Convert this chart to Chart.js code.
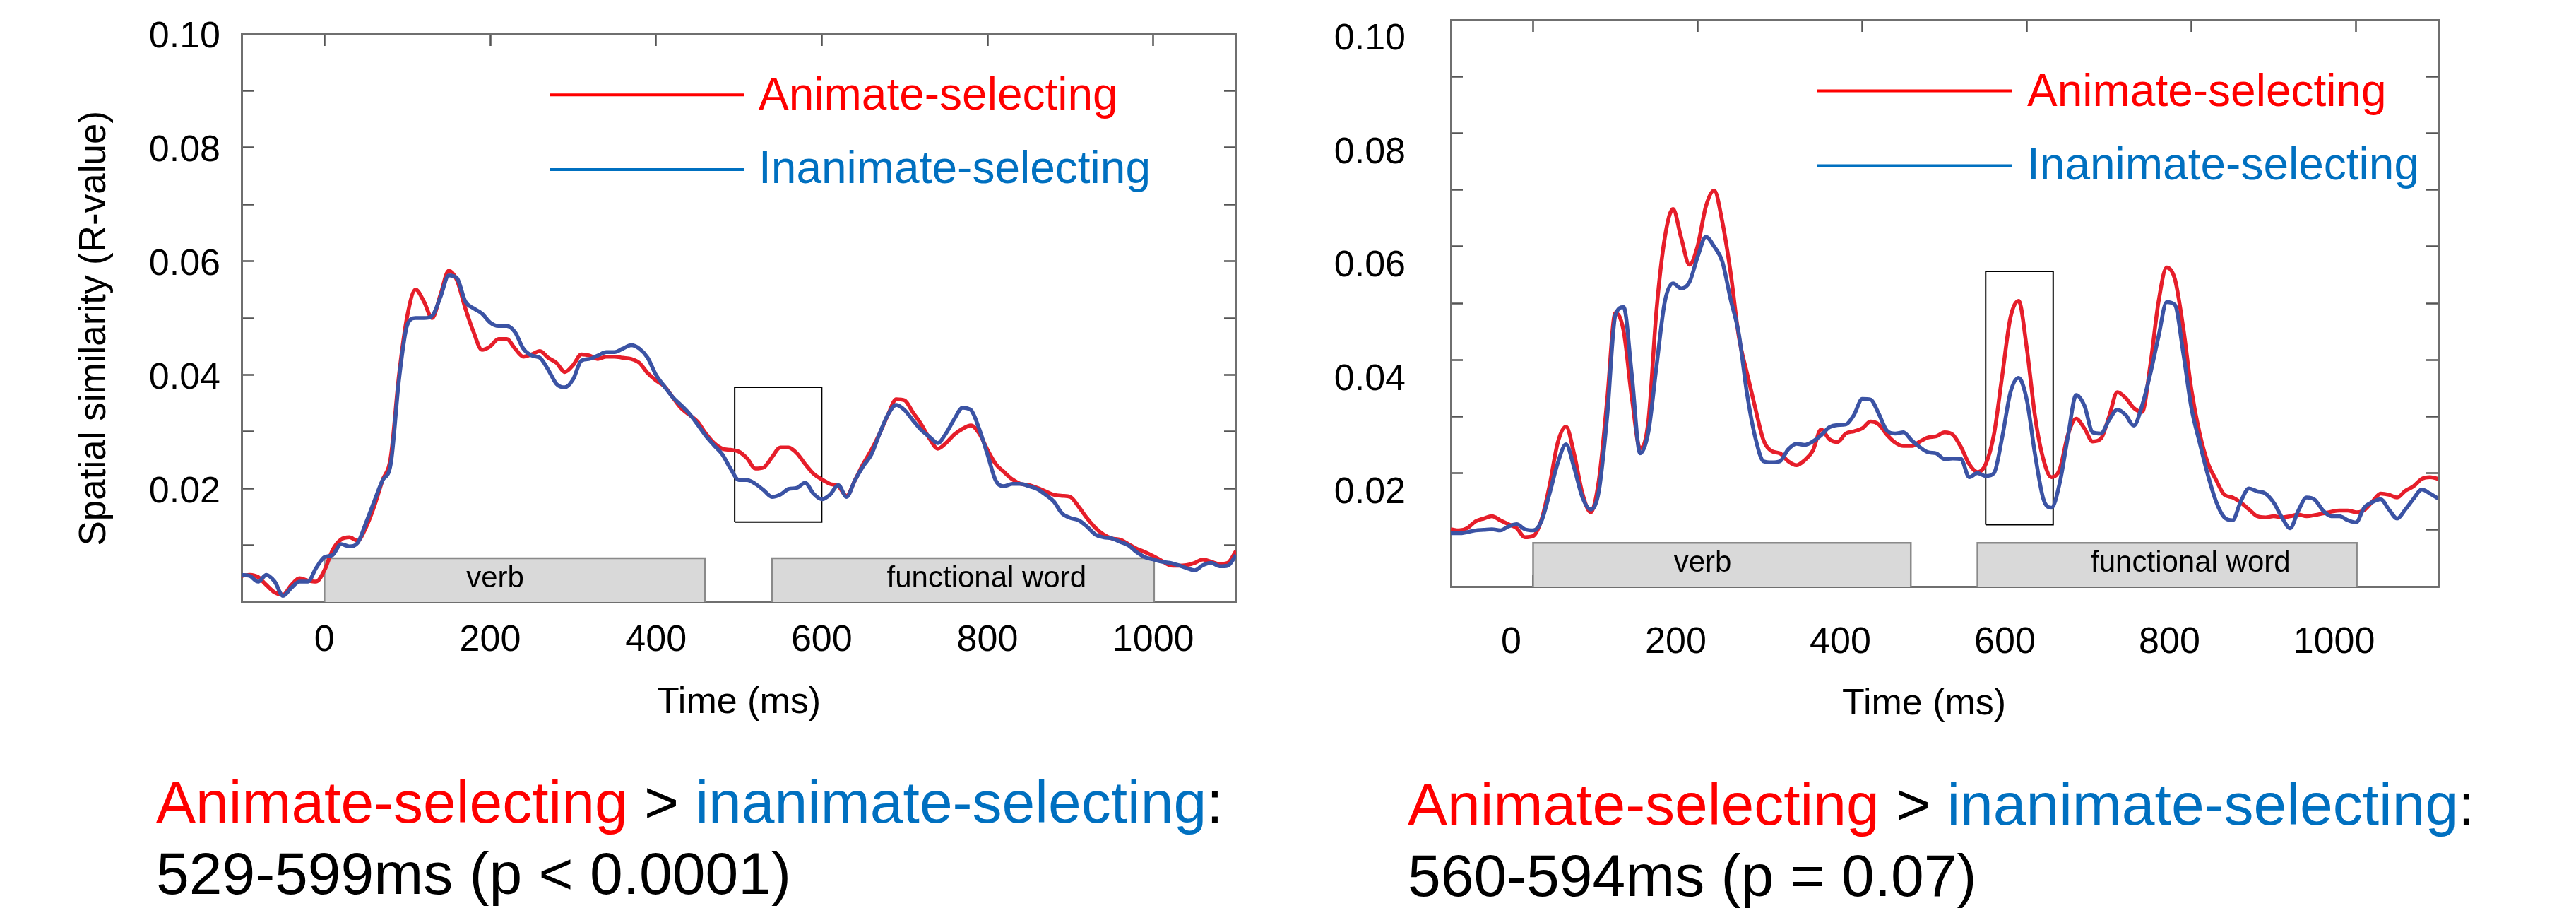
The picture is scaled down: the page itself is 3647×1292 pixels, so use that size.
<!DOCTYPE html>
<html><head><meta charset="utf-8">
<script src="https://cdn.jsdelivr.net/npm/chart.js@4.4.1/dist/chart.umd.min.js"></script>
<style>
html,body{margin:0;padding:0;background:#fff;}
#page{position:relative;width:3647px;height:1292px;overflow:hidden;background:#fff;font-family:"Liberation Sans",Arial,sans-serif;}
canvas{position:absolute;top:0;}
#c1{left:0;}
#c2{left:1830px;}
.cap{position:absolute;font-size:84px;line-height:101px;color:#000;white-space:nowrap;}
.r{color:#ff0000;}
.b{color:#0070c0;}
</style></head><body>
<div id="page">
<canvas id="c1" width="1830" height="1060"></canvas>
<canvas id="c2" width="1817" height="1060"></canvas>
<div class="cap" style="left:221px;top:1085px"><span class="r">Animate-selecting</span> &gt; <span class="b">inanimate-selecting</span>:<br>529-599ms (p &lt; 0.0001)</div>
<div class="cap" style="left:1993px;top:1088px"><span class="r">Animate-selecting</span> &gt; <span class="b">inanimate-selecting</span>:<br>560-594ms (p = 0.07)</div>
</div>
<script>
const times = [-100,-90,-80,-70,-60,-50,-40,-30,-20,-10,
0,10,20,30,40,50,60,70,80,90,100,110,120,130,140,150,160,170,180,190,
200,210,220,230,240,250,260,270,280,290,300,310,320,330,340,350,360,370,380,390,
400,410,420,430,440,450,460,470,480,490,500,510,520,530,540,550,560,570,580,590,
600,610,620,630,640,650,660,670,680,690,700,710,720,730,740,750,760,770,780,790,
800,810,820,830,840,850,860,870,880,890,900,910,920,930,940,950,960,970,980,990,
1000,1010,1020,1030,1040,1050,1060,1070,1080,1090,1100];

const leftAnimate = [.0046,.0048,.0044,.0030,.0017,.0013,.0030,.0042,.0038,.0036,
.0056,.0092,.0110,.0114,.0108,.0131,.0168,.0214,.0255,.0400,
.0504,.0550,.0529,.0500,.0541,.0583,.0566,.0517,.0475,.0444,
.0450,.0463,.0463,.0446,.0432,.0436,.0442,.0430,.0421,.0405,
.0417,.0436,.0434,.0428,.0432,.0432,.0430,.0428,.0421,.0403,
.0390,.0380,.0361,.0342,.0330,.0318,.0297,.0280,.0270,.0268,
.0265,.0253,.0235,.0237,.0255,.0272,.0272,.0262,.0243,.0226,
.0216,.0208,.0204,.0187,.0214,.0243,.0268,.0297,.0330,.0357,
.0355,.0334,.0313,.0288,.0270,.0280,.0295,.0305,.0311,.0297,
.0268,.0243,.0229,.0216,.0208,.0206,.0201,.0195,.0189,.0187,
.0185,.0168,.0148,.0131,.0119,.0112,.0110,.0102,.0094,.0088,
.0081,.0073,.0065,.0064,.0065,.0069,.0075,.0071,.0067,.0069,.0090];

const leftInanimate = [.0048,.0046,.0036,.0048,.0036,.0011,.0025,.0036,.0036,.0060,
.0079,.0083,.0102,.0098,.0104,.0139,.0177,.0214,.0243,.0392,
.0488,.0500,.0500,.0504,.0537,.0575,.0570,.0529,.0517,.0508,
.0492,.0486,.0486,.0475,.0446,.0434,.0430,.0409,.0384,.0378,
.0392,.0425,.0428,.0434,.0440,.0440,.0446,.0452,.0446,.0430,
.0400,.0380,.0361,.0347,.0332,.0313,.0293,.0276,.0260,.0235,
.0215,.0215,.0208,.0197,.0185,.0189,.0199,.0201,.0210,.0191,
.0181,.0189,.0206,.0185,.0214,.0239,.0260,.0297,.0330,.0347,
.0338,.0320,.0303,.0291,.0280,.0297,.0322,.0342,.0338,.0305,
.0260,.0214,.0204,.0208,.0208,.0204,.0199,.0189,.0177,.0156,
.0148,.0144,.0133,.0119,.0114,.0112,.0106,.0100,.0088,.0079,
.0075,.0071,.0069,.0065,.0060,.0056,.0065,.0069,.0063,.0064,.0083];

const rightAnimate = [.0101,.0099,.0103,.0115,.0120,.0124,.0117,.0110,.0103,.0087,
.0089,.0117,.0178,.0254,.0282,.0233,.0164,.0131,.0188,.0329,
.0483,.0451,.0333,.0244,.0291,.0488,.0615,.0666,.0615,.0568,
.0601,.0671,.0699,.0643,.0554,.0441,.0376,.0315,.0258,.0239,
.0235,.0221,.0214,.0223,.0240,.0277,.0260,.0255,.0270,.0274,
.0279,.0291,.0286,.0268,.0254,.0248,.0248,.0256,.0263,.0265,
.0272,.0268,.0246,.0216,.0202,.0216,.0268,.0371,.0474,.0504,
.0420,.0300,.0225,.0193,.0207,.0268,.0296,.0279,.0256,.0261,
.0300,.0343,.0333,.0315,.0308,.0390,.0502,.0563,.0542,.0457,
.0347,.0270,.0218,.0188,.0162,.0157,.0148,.0136,.0124,.0122,
.0124,.0122,.0124,.0127,.0124,.0126,.0129,.0132,.0134,.0134,
.0131,.0135,.0150,.0164,.0162,.0157,.0169,.0177,.0190,.0193,.0190];

const rightInanimate = [.0094,.0094,.0096,.0099,.0100,.0101,.0099,.0106,.0110,.0101,
.0099,.0115,.0164,.0218,.0251,.0209,.0157,.0136,.0169,.0300,
.0479,.0493,.0373,.0235,.0272,.0389,.0502,.0535,.0526,.0537,
.0582,.0617,.0600,.0573,.0507,.0446,.0340,.0263,.0221,.0219,
.0221,.0242,.0252,.0250,.0256,.0267,.0281,.0285,.0286,.0303,
.0331,.0330,.0305,.0275,.0270,.0272,.0258,.0246,.0237,.0235,
.0225,.0226,.0225,.0193,.0200,.0195,.0200,.0263,.0342,.0368,
.0329,.0233,.0155,.0139,.0183,.0265,.0338,.0319,.0272,.0270,
.0294,.0312,.0303,.0284,.0319,.0375,.0441,.0502,.0497,.0413,
.0315,.0254,.0197,.0150,.0122,.0117,.0150,.0173,.0168,.0164,
.0148,.0122,.0103,.0134,.0157,.0153,.0134,.0124,.0124,.0117,
.0113,.0139,.0149,.0154,.0136,.0120,.0136,.0155,.0171,.0164,.0155];

const seriesNames = ['Animate-selecting', 'Inanimate-selecting'];
const xTickValues = [0, 200, 400, 600, 800, 1000];
const xTickLabels = ['0', '200', '400', '600', '800', '1000'];
const yTickValues = [0, 0.01, 0.02, 0.03, 0.04, 0.05, 0.06, 0.07, 0.08, 0.09, 0.10];
const yTickLabels = ['', '', '0.02', '', '0.04', '', '0.06', '', '0.08', '', '0.10'];
const segmentLabels = ['verb', 'functional word'];
const segmentStart = [0, 540];
const segmentEnd = [459, 1001];
const segmentTop = 0.0077;
const segmentLabelAt = [206, 799];
const leftWindowX = [495, 600];
const leftWindowY = [0.0141, 0.0378];
const rightWindowX = [550, 632];
const rightWindowY = [0.0109, 0.0556];

Chart.defaults.font.family = "'Liberation Sans', Arial, Helvetica, sans-serif";
Chart.defaults.color = '#000';

const RED = '#e61e2a', BLUE = '#3b53a4';

function curve(label, values, color, order) {
  return { label, data: times.map((t, i) => ({x: t, y: values[i]})), borderColor: color,
    borderWidth: 5.5, pointRadius: 0, cubicInterpolationMode: 'monotone', fill: false, order };
}
function segmentBox(i) {
  return { label: segmentLabels[i], data: [
      {x: segmentStart[i], y: 0}, {x: segmentStart[i], y: segmentTop},
      {x: segmentEnd[i], y: segmentTop}, {x: segmentEnd[i], y: 0}],
    borderColor: '#8a8a8a', borderWidth: 2.5, backgroundColor: '#d9d9d9', fill: 'origin',
    pointRadius: 0, tension: 0, order: 10 };
}
function windowBox(xs, ys) {
  return { label: 'window', data: [
      {x: xs[0], y: ys[0]}, {x: xs[0], y: ys[1]}, {x: xs[1], y: ys[1]},
      {x: xs[1], y: ys[0]}, {x: xs[0], y: ys[0]}],
    borderColor: '#000', borderWidth: 2, fill: false, pointRadius: 0, tension: 0, order: 5 };
}

const overlay = {
  id: 'overlay',
  afterDatasetsDraw(chart, args, o) {
    const {ctx, chartArea: ca} = chart;
    const xs = chart.scales.x, ys = chart.scales.y;
    ctx.save();
    ctx.font = "42px 'Liberation Sans', Arial, sans-serif";
    ctx.fillStyle = '#000';
    ctx.textAlign = 'center';
    ctx.textBaseline = 'alphabetic';
    const yT = ys.getPixelForValue(segmentTop), yB = ys.getPixelForValue(0);
    segmentLabels.forEach((t, i) => ctx.fillText(t, xs.getPixelForValue(segmentLabelAt[i]), yT + 0.66 * (yB - yT)));
    const L = o.legend;
    ctx.font = "64px 'Liberation Sans', Arial, sans-serif";
    ctx.textAlign = 'left';
    seriesNames.forEach((name, i) => {
      ctx.strokeStyle = L.colors[i];
      ctx.lineWidth = 4;
      ctx.beginPath();
      ctx.moveTo(ca.left + L.x0, ca.top + L.lineY[i]);
      ctx.lineTo(ca.left + L.x1, ca.top + L.lineY[i]);
      ctx.stroke();
      ctx.fillStyle = L.colors[i];
      ctx.fillText(name, ca.left + L.textX, ca.top + L.base[i]);
    });
    ctx.restore();
  }
};

function makeChart(id, animate, inanimate, winX, winY, L) {
  const border = {display: true, color: '#6f6f6f', width: 3};
  const grid = {display: true, drawOnChartArea: false, drawTicks: true, tickLength: -17, tickWidth: 2.5, tickColor: '#555'};
  const setX = s => { s.ticks = xTickValues.map(v => ({value: v})); };
  const setY = s => { s.ticks = yTickValues.map(v => ({value: v})); };
  const yScale = {
    type: 'linear', position: 'left', min: 0, max: 0.1, z: 1, border, grid,
    afterBuildTicks: setY,
    ticks: {autoSkip: false, font: {size: 52}, color: '#000', padding: L.yPad, labelOffset: L.yLabelOffset,
      callback: (v, i) => yTickLabels[i]},
    afterFit: s => { s.width = L.yWidth; s.paddingTop = 0; s.paddingBottom = 0; }
  };
  if (L.yTitle) {
    yScale.title = {display: true, text: L.yTitle, font: {size: 53}, color: '#000', padding: {top: 103, bottom: 0}};
  }
  return new Chart(document.getElementById(id), {
    type: 'line',
    data: { datasets: [
      curve(seriesNames[1], inanimate, BLUE, 1),
      curve(seriesNames[0], animate, RED, 2),
      windowBox(winX, winY),
      segmentBox(0), segmentBox(1)
    ]},
    options: {
      responsive: false, animation: false, devicePixelRatio: 1,
      layout: {padding: L.padding},
      plugins: {legend: {display: false}, tooltip: {enabled: false}, overlay: {legend: L.legend}},
      scales: {
        x: { type: 'linear', position: 'bottom', min: -100, max: 1100, z: 1, border,
          grid: Object.assign({}, grid, {tickColor: '#222'}),
          afterBuildTicks: setX,
          ticks: {autoSkip: false, maxRotation: 0, font: {size: 52}, color: '#000', padding: L.xPad,
            labelOffset: L.xLabelOffset, callback: (v, i) => xTickLabels[i]},
          title: {display: true, text: L.xTitle, font: {size: 52}, color: '#000', padding: {top: 0, bottom: L.xTitlePad}},
          afterFit: s => { s.height = L.xHeight; s.paddingLeft = 0; s.paddingRight = 0; } },
        xTop: { type: 'linear', position: 'top', min: -100, max: 1100, z: 1, border, grid,
          afterBuildTicks: setX, ticks: {display: false},
          afterFit: s => { s.height = 0; s.paddingLeft = 0; s.paddingRight = 0; } },
        y: yScale,
        yRight: { type: 'linear', position: 'right', min: 0, max: 0.1, z: 1, border, grid,
          afterBuildTicks: setY, ticks: {display: false},
          afterFit: s => { s.width = 0; s.paddingTop = 0; s.paddingBottom = 0; } }
      }
    },
    plugins: [overlay]
  });
}

makeChart('c1', leftAnimate, leftInanimate, leftWindowX, leftWindowY, {
  padding: {left: 0, top: 48, right: 80, bottom: 0},
  yWidth: 342, xHeight: 208, yPad: 47, yLabelOffset: 5, xPad: 40, xLabelOffset: 0,
  xTitle: 'Time (ms)', xTitlePad: 34, yTitle: 'Spatial similarity (R-value)  ',
  legend: {colors: ['#ff0000', '#0070c0'], x0: 436, x1: 711, textX: 732, lineY: [86.3, 192], base: [107, 211]}
});
makeChart('c2', rightAnimate, rightInanimate, rightWindowX, rightWindowY, {
  padding: {left: 0, top: 28, right: 195, bottom: 0},
  yWidth: 224, xHeight: 230, yPad: 81, yLabelOffset: 28, xPad: 65, xLabelOffset: -31,
  xTitle: 'Time (ms)    ', xTitlePad: 32, yTitle: null,
  legend: {colors: ['#ff0000', '#0070c0'], x0: 519, x1: 795, textX: 816, lineY: [100.5, 206.4], base: [121.5, 225.5]}
});
</script>
</body></html>
